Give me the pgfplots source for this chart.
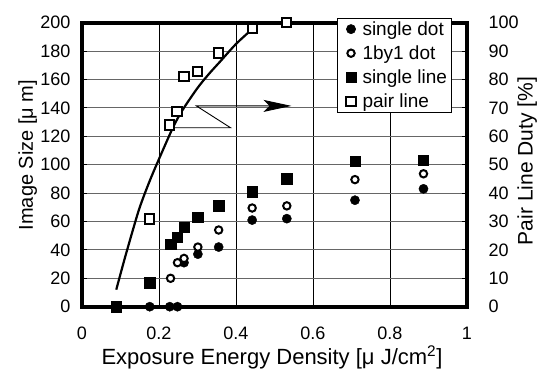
\documentclass[border=0pt]{standalone}
\usepackage{fontspec}
\setmainfont{Liberation Sans}
\usepackage{pgfplots}
\pgfplotsset{compat=1.18}
\usetikzlibrary{arrows.meta}
\newcommand\tickfont{\fontsize{18}{21}\selectfont}
\newcommand\labfont{\fontsize{20}{24}\selectfont}
\newcommand\legfont{\fontsize{19}{22}\selectfont}
\begin{document}
\begin{tikzpicture}
\begin{axis}[
  scale only axis, width=385pt, height=284pt,
  xmin=0, xmax=1, ymin=0, ymax=200,
  clip=false,
  /pgf/number format/assume math mode=true,
  xtick={0,0.2,0.4,0.6,0.8,1}, xticklabels={0,0.2,0.4,0.6,0.8,1},
  ytick={0,20,...,200},
  xtick pos=bottom, ytick pos=left, tick align=inside,
  major tick length=5pt,
  tick style={black, line width=0.8pt},
  axis line style={line width=4pt},
  xmajorgrids, ymajorgrids,
  major x grid style={black, line width=0.8pt},
  major y grid style={black!60, line width=1.1pt},
  ticklabel style={font=\tickfont},
  xticklabel style={anchor=north, yshift=-17pt},
  yticklabel style={anchor=east, xshift=-8pt},
  xlabel={Exposure Energy Density [μ J/cm\textsuperscript{2}]},
  ylabel={Image Size [μ m]},
  every axis x label/.style={at={(rel axis cs:0.4935,0)}, yshift=-57.5pt, anchor=base, font=\fontsize{22}{24}\selectfont},
  every axis y label/.style={at={(rel axis cs:0,0.534)}, xshift=-49pt, anchor=base, rotate=90, font=\labfont},
]
% single dot
\addplot[only marks, mark=*, mark size=4.6pt, black] coordinates {
 (0.176,0) (0.228,0) (0.248,0) (0.265,31) (0.301,37) (0.355,42)
 (0.442,61) (0.532,62) (0.709,75) (0.887,83)};
% 1by1 dot
\addplot[only marks, mark=*, mark size=3.7pt, black, line width=2pt, mark options={fill=white}] coordinates {
 (0.230,20) (0.248,31) (0.265,34) (0.301,42) (0.355,54)
 (0.442,69.5) (0.532,71) (0.709,89.5) (0.887,93.6)};
% single line
\addplot[only marks, mark=square*, mark size=5.2pt, black] coordinates {
 (0.089,0) (0.176,17) (0.230,44) (0.248,49) (0.265,56) (0.301,63)
 (0.355,71) (0.442,81) (0.532,90) (0.709,102.5) (0.887,103)};
\end{axis}
\begin{axis}[
  scale only axis, width=385pt, height=284pt,
  xmin=0, xmax=1, ymin=0, ymax=100,
  clip=false,
  /pgf/number format/assume math mode=true,
  axis x line=none, axis y line*=right,
  ytick={0,10,...,100},
  tick align=inside, major tick length=5pt,
  tick style={black, line width=0.8pt},
  axis line style={line width=4pt},
  ticklabel style={font=\tickfont},
  yticklabel style={anchor=west, xshift=18pt},
  ylabel={Pair Line Duty [\%]},
  every axis y label/.style={at={(rel axis cs:1,0.513)}, xshift=65.7pt, anchor=base, rotate=90, font=\fontsize{21}{24}\selectfont},
  legend image code/.code={\path (0pt,0pt) (19pt,0pt); \draw[#1] plot coordinates {(10pt,0pt)};},
  legend style={at={(axis description cs:0.6616,1.0176)}, anchor=north west,
    draw=black, line width=0.6pt, fill=white, font=\legfont,
    inner ysep=2pt, row sep=5.8pt, nodes={inner sep=1.5pt}},
  legend cell align=left,
]
\addlegendimage{only marks, mark=*, mark size=4.6pt, black}
\addlegendentry{single dot}
\addlegendimage{only marks, mark=*, mark size=3.7pt, black, line width=2pt, mark options={fill=white}}
\addlegendentry{1by1 dot}
\addlegendimage{only marks, mark=square*, mark size=5.2pt, black}
\addlegendentry{single line}
% pair line
\addplot[only marks, mark=square*, mark size=4.6pt, black, line width=2pt, mark options={fill=white}] coordinates {
 (0.176,30.9) (0.228,64) (0.247,68.6) (0.265,81) (0.301,82.8)
 (0.354,89.3) (0.442,98) (0.532,100)};
\addlegendentry{pair line}
% fitted curve
\addplot[black, line width=2.2pt, smooth, forget plot] coordinates {
 (0.089,6) (0.11,16.5) (0.13,26) (0.15,35) (0.175,44) (0.2,52)
 (0.236,63) (0.26,69) (0.3,77) (0.33,82) (0.36,86.5) (0.4,92.5)
 (0.44,97.5) (0.46,100)};
% arrow pointing to right axis
\addplot[black, line width=0.9pt, forget plot, -{Stealth[length=28pt,width=12pt,inset=6pt]}] coordinates {
 (0.241,63) (0.386,63) (0.297,70.7) (0.544,70.7)};
\end{axis}
\pgfresetboundingbox
\path (-82pt,-62.3pt) rectangle (460pt,306.7pt);
\end{tikzpicture}
\end{document}
